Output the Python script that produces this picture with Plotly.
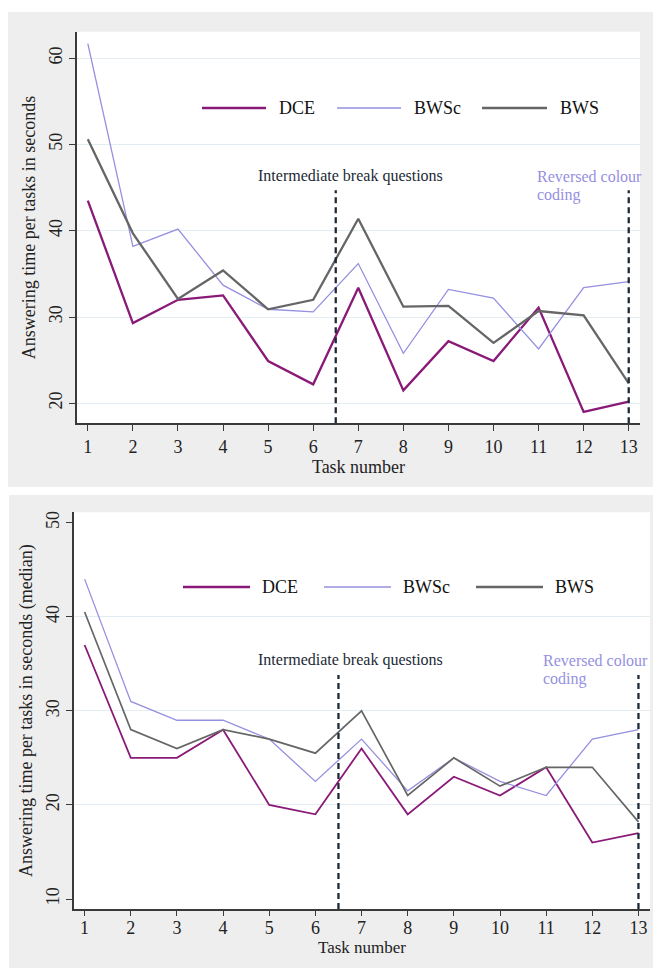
import plotly.graph_objects as go

# ---------------- data ----------------
tasks = list(range(1, 14))
tick_labels = [str(t) for t in tasks]

# Panel A: mean answering time (seconds)
dce_mean = [43.5, 29.3, 32.0, 32.5, 24.9, 22.2, 33.4, 21.5, 27.2, 24.9, 31.1, 19.0, 20.2]
bwsc_mean = [61.7, 38.2, 40.2, 33.7, 30.9, 30.6, 36.2, 25.8, 33.2, 32.2, 26.3, 33.4, 34.1]
bws_mean = [50.6, 39.7, 32.1, 35.4, 30.9, 32.0, 41.4, 31.2, 31.3, 27.0, 30.7, 30.2, 22.3]

# Panel B: median answering time (seconds)
dce_median = [37.0, 25.0, 25.0, 28.0, 20.0, 19.0, 26.0, 19.0, 23.0, 21.0, 24.0, 16.0, 17.0]
bwsc_median = [44.0, 31.0, 29.0, 29.0, 27.0, 22.5, 27.0, 21.5, 25.0, 22.5, 21.0, 27.0, 28.0]
bws_median = [40.5, 28.0, 26.0, 28.0, 27.0, 25.5, 30.0, 21.0, 25.0, 22.0, 24.0, 24.0, 18.2]

series_names = ["DCE", "BWSc", "BWS"]
yticks_top = [20, 30, 40, 50, 60]
yticks_bottom = [10, 20, 30, 40, 50]
grid_bottom = [20, 30, 40]

break_x = [6.5, 13]          # vertical reference lines
break_top_mean = 44.7        # top of dashed line, panel A
break_top_median = 33.8      # top of dashed line, panel B

# ---------------- style ----------------
W, H = 653, 968
FONT = "Liberation Serif"
C_DCE = "#8a1a78"
C_BWSC = "#9590e0"
C_BWS = "#666666"
C_DASH = "#1c2a36"
C_GRID = "#e4edf2"
C_PANEL = "#eeeeee"
C_AXIS = "#3a3a3a"


def px(x):
    return x / W


def py(y):
    return 1 - y / H


fig = go.Figure()

colors = [C_DCE, C_BWSC, C_BWS]
widths_top = [2.3, 1.3, 2.3]
widths_bot = [1.8, 1.3, 1.7]

for name, vals, c, w in zip(series_names, [dce_mean, bwsc_mean, bws_mean], colors, widths_top):
    fig.add_trace(go.Scatter(x=tasks, y=vals, mode="lines", name=name,
                             line=dict(color=c, width=w), xaxis="x", yaxis="y",
                             showlegend=False))
for name, vals, c, w in zip(series_names, [dce_median, bwsc_median, bws_median], colors, widths_bot):
    fig.add_trace(go.Scatter(x=tasks, y=vals, mode="lines", name=name,
                             line=dict(color=c, width=w), xaxis="x2", yaxis="y2",
                             showlegend=False))

shapes = []
# gray panel backgrounds and white plot areas
shapes.append(dict(type="rect", xref="paper", yref="paper", x0=px(8), x1=1.0,
                   y0=py(487), y1=py(12), fillcolor=C_PANEL, line=dict(width=0), layer="below"))
shapes.append(dict(type="rect", xref="paper", yref="paper", x0=px(9), x1=1.0,
                   y0=0.0, y1=py(495), fillcolor=C_PANEL, line=dict(width=0), layer="below"))
shapes.append(dict(type="rect", xref="x domain", yref="y domain", x0=0, x1=1, y0=0, y1=1,
                   fillcolor="white", line=dict(width=0), layer="below"))
shapes.append(dict(type="rect", xref="x2 domain", yref="y2 domain", x0=0, x1=1, y0=0, y1=1,
                   fillcolor="white", line=dict(width=0), layer="below"))

# dashed vertical lines
y_min_top = 17.68
y_min_bot = 8.94
for bx in break_x:
    shapes.append(dict(type="line", xref="x", yref="y", x0=bx, x1=bx, y0=y_min_top, y1=break_top_mean,
                       line=dict(color=C_DASH, width=2.3, dash="6px,4px"), layer="above"))
    shapes.append(dict(type="line", xref="x2", yref="y2", x0=bx, x1=bx, y0=y_min_bot, y1=break_top_median,
                       line=dict(color=C_DASH, width=2.3, dash="6px,4px"), layer="above"))

annotations = []
# manual legends
leg_top = dict(y=108, items=[(202, 266, 277), (337, 401, 412), (482, 547, 558)])
leg_bot = dict(y=587, items=[(183, 250, 260), (324, 391, 401), (476, 543, 553)])
leg_w_top = [2.6, 1.5, 2.6]
leg_w_bot = [2.4, 1.5, 2.4]
for leg, lw in [(leg_top, leg_w_top), (leg_bot, leg_w_bot)]:
    for (x0, x1, xt), name, c, w in zip(leg["items"], series_names, colors, lw):
        shapes.append(dict(type="line", xref="paper", yref="paper", x0=px(x0), x1=px(x1),
                           y0=py(leg["y"]), y1=py(leg["y"]), line=dict(color=c, width=w)))
        annotations.append(dict(xref="paper", yref="paper", x=px(xt), y=py(leg["y"]),
                                text=name, showarrow=False, xanchor="left", yanchor="middle",
                                font=dict(family=FONT, size=18, color="#111111")))

# text annotations
for yc, yr1, yr2, xr in [(176, 176, 195, 535), (660, 660, 679, 541)]:
    annotations.append(dict(xref="paper", yref="paper", x=px(350), y=py(yc),
                            text="Intermediate break questions", showarrow=False,
                            xanchor="center", yanchor="middle",
                            font=dict(family=FONT, size=16, color="#1c2a36")))
    annotations.append(dict(xref="paper", yref="paper", x=px(xr), y=py(yr1),
                            text="Reversed colour", showarrow=False,
                            xanchor="left", yanchor="middle",
                            font=dict(family=FONT, size=16, color=C_BWSC)))
    annotations.append(dict(xref="paper", yref="paper", x=px(xr), y=py(yr2),
                            text="coding", showarrow=False,
                            xanchor="left", yanchor="middle",
                            font=dict(family=FONT, size=16, color=C_BWSC)))

axis_common = dict(showline=True, linecolor=C_AXIS, linewidth=1.5, ticks="outside",
                   tickcolor=C_AXIS, tickwidth=1.2, zeroline=False,
                   tickfont=dict(family=FONT, size=18, color="#222222"))

fig.update_layout(
    width=W, height=H,
    margin=dict(l=0, r=0, t=0, b=0),
    paper_bgcolor="white",
    plot_bgcolor="rgba(0,0,0,0)",
    showlegend=False,
    shapes=shapes,
    annotations=annotations,
    xaxis=dict(domain=[px(77), px(640)], anchor="y", range=[0.76, 13.25],
               tickvals=tasks, ticktext=tick_labels, showgrid=False, ticklen=6,
               title=dict(text="Task number", standoff=4,
                          font=dict(family=FONT, size=18, color="#222222")),
               **axis_common),
    yaxis=dict(domain=[py(423.3), py(31.7)], anchor="x", range=[17.68, 63.08],
               tickvals=yticks_top, tickangle=-90, showgrid=True, gridcolor=C_GRID,
               gridwidth=1.3, ticklen=6,
               title=dict(text="Answering time per tasks in seconds", standoff=6,
                          font=dict(family=FONT, size=18, color="#222222")),
               **axis_common),
    xaxis2=dict(domain=[px(74), px(650)], anchor="y2", range=[0.77, 13.25],
                tickvals=tasks, ticktext=tick_labels, showgrid=False, ticklen=5,
                ticklabelstandoff=-3,
                title=dict(text="Task number", standoff=0,
                           font=dict(family=FONT, size=17, color="#222222")),
                **axis_common),
    yaxis2=dict(domain=[py(909), py(512.3)], anchor="x2", range=[8.94, 51.1],
                tickvals=yticks_bottom, tickangle=-90, showgrid=False, ticklen=6,
                minor=dict(tickvals=grid_bottom, showgrid=True, gridcolor=C_GRID,
                           gridwidth=1.3, ticks=""),
                title=dict(text="Answering time per tasks in seconds (median)", standoff=6,
                           font=dict(family=FONT, size=18, color="#222222")),
                **axis_common),
)

fig.write_html("out.html", config={"displayModeBar": False},
               post_script="document.body.style.margin='0';document.body.style.overflow='hidden';")
